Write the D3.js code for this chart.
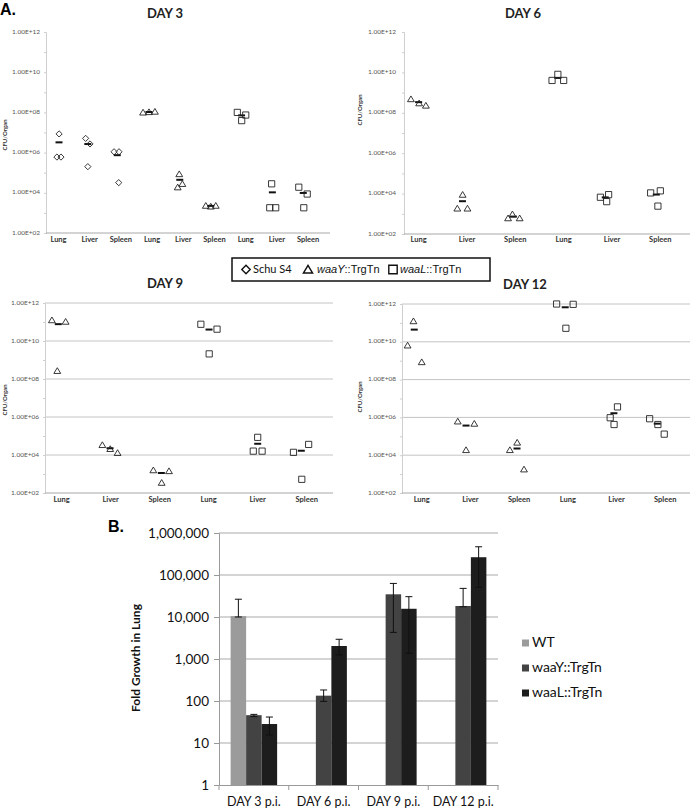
<!DOCTYPE html>
<html lang="en">
<head>
<meta charset="UTF-8">
<title>CFU per organ and fold growth in lung</title>
<script src="https://d3js.org/d3.v7.min.js"></script>
<style>
  body { margin: 0; background: #fff; }
  svg text { font-family: Lato, "Open Sans", sans-serif; }
</style>
</head>
<body>
<script>
    var W = 691, H = 811;

    // ---- panel A data: [strain, x in category units, CFU/organ] ----
    var day3Cats = ["Lung","Liver","Spleen","Lung","Liver","Spleen","Lung","Liver","Spleen"];
    var day3Points = [
        ["schu", 1.02, 8.5e6], ["schu", 0.95, 6.0e5], ["schu", 1.08, 6.0e5],
        ["schu", 1.87, 5.1e6], ["schu", 2.01, 2.7e6], ["schu", 1.94, 2.0e5],
        ["schu", 2.78, 1.1e6], ["schu", 2.94, 1.1e6], ["schu", 2.93, 3.2e4],
        ["waaY", 3.71, 1.0e8], ["waaY", 3.90, 1.05e8], ["waaY", 4.09, 1.1e8],
        ["waaY", 4.87, 8.6e4], ["waaY", 4.82, 1.9e4], ["waaY", 4.97, 2.8e4],
        ["waaY", 5.72, 2300], ["waaY", 5.88, 2100], ["waaY", 6.04, 2300],
        ["waaL", 6.73, 1.0e8], ["waaL", 6.87, 3.9e7], ["waaL", 7.00, 7.4e7],
        ["waaL", 7.83, 2.8e4], ["waaL", 7.77, 1800], ["waaL", 7.96, 1800],
        ["waaL", 8.70, 1.9e4], ["waaL", 8.97, 8700], ["waaL", 8.86, 1800]
    ];

    var mutantCats = ["Lung","Liver","Spleen","Lung","Liver","Spleen"];
    var day6Points = [
        ["waaY", 0.84, 4.8e8], ["waaY", 1.01, 3.0e8], ["waaY", 1.15, 2.3e8],
        ["waaY", 1.91, 8900], ["waaY", 1.80, 1850], ["waaY", 2.01, 1850],
        ["waaY", 2.85, 610], ["waaY", 2.94, 960], ["waaY", 3.09, 610],
        ["waaL", 3.76, 4.0e9], ["waaL", 3.88, 8.0e9], ["waaL", 4.00, 4.0e9],
        ["waaL", 4.76, 6600], ["waaL", 4.93, 8900], ["waaL", 4.89, 4000],
        ["waaL", 5.80, 10800], ["waaL", 6.00, 13700], ["waaL", 5.95, 2400]
    ];
    var day9Points = [
        ["waaY", 0.80, 1.26e11], ["waaY", 1.08, 1.05e11], ["waaY", 0.91, 2.7e8],
        ["waaY", 1.83, 3.4e4], ["waaY", 1.99, 2.1e4], ["waaY", 2.14, 1.3e4],
        ["waaY", 2.87, 1600], ["waaY", 3.19, 1440], ["waaY", 3.04, 350],
        ["waaL", 3.84, 7.6e10], ["waaL", 4.17, 4.2e10], ["waaL", 4.01, 2.1e9],
        ["waaL", 5.00, 8.5e4], ["waaL", 4.91, 1.6e4], ["waaL", 5.09, 1.6e4],
        ["waaL", 5.73, 1.38e4], ["waaL", 6.04, 3.6e4], ["waaL", 5.90, 525]
    ];
    var day12Points = [
        ["waaY", 0.83, 1.25e11], ["waaY", 0.71, 6.5e9], ["waaY", 1.00, 8.5e8],
        ["waaY", 1.74, 6.2e5], ["waaY", 2.08, 4.7e5], ["waaY", 1.91, 1.9e4],
        ["waaY", 2.81, 1.9e4], ["waaY", 2.96, 4.7e4], ["waaY", 3.10, 1800],
        ["waaL", 3.77, 1.0e12], ["waaL", 4.11, 9.6e11], ["waaL", 3.96, 5.2e10],
        ["waaL", 4.87, 9.6e5], ["waaL", 5.02, 3.6e6], ["waaL", 4.95, 4.2e5],
        ["waaL", 5.68, 8.5e5], ["waaL", 5.85, 4.2e5], ["waaL", 5.98, 1.3e5]
    ];
    var cfuTicks = [1e2, 1e4, 1e6, 1e8, 1e10, 1e12];

    // ---- panel B data ----
    var days = ["DAY 3 p.i.", "DAY 6 p.i.", "DAY 9 p.i.", "DAY 12 p.i."];
    var strains = ["WT", "waaY::TrgTn", "waaL::TrgTn"];
    var wtFold = [10500, null, null, null];
    var wtLow = [10000, null, null, null];
    var wtHigh = [26500, null, null, null];
    var waaYFold = [46, 134, 34700, 18300];
    var waaYLow = [42.5, 98, 4300, 17500];
    var waaYHigh = [48, 183, 63000, 48000];
    var waaLFold = [28.3, 2040, 15700, 265000];
    var waaLLow = [15.5, 1250, 1370, 51000];
    var waaLHigh = [41.5, 2950, 30500, 470000];
    var foldTicks = [1, 10, 100, 1000, 10000, 100000, 1000000];

    var svg = d3.select("body").append("svg")
        .attr("width", W).attr("height", H);

    // marker shapes
    function markerPath(kind, s) {
        if (kind === "schu") return "M0," + (-s) + "L" + s + ",0L0," + s + "L" + (-s) + ",0Z";
        if (kind === "waaY") return "M0," + (-s) + "L" + (s * 1.1) + "," + (s * 0.85) + "L" + (-s * 1.1) + "," + (s * 0.85) + "Z";
        return "M" + (-s) + "," + (-s) + "H" + s + "V" + s + "H" + (-s) + "Z";
    }
    var sciFmt = function(v) {
        var e = Math.round(Math.log10(v));
        return "1.00E+" + (e < 10 ? "0" : "") + e;
    };

    function drawPanel(p) {
        var g = svg.append("g");
        var x = d3.scaleLinear().domain(p.xDomain).range([p.x0, p.x1]);
        var y = d3.scaleLog().domain([1e2, 1e12]).range([p.yBot, p.yTop]);

        g.append("text").attr("x", p.titleX).attr("y", p.titleY)
            .attr("text-anchor", "middle").attr("dominant-baseline", "middle")
            .style("font-size", "13px").style("font-weight", "bold").style("fill", "#222")
            .text(p.title);

        if (p.grid) {
            g.selectAll(".grid").data(cfuTicks.slice(1)).enter().append("line")
                .attr("x1", p.x0).attr("x2", p.x1)
                .attr("y1", function(d) { return y(d); }).attr("y2", function(d) { return y(d); })
                .style("stroke", "#c4c4c4").style("stroke-width", 1);
        }

        // y axis with minor ticks
        var yAx = g.append("g").attr("transform", "translate(" + p.x0 + ",0)")
            .call(d3.axisLeft(y).tickValues(d3.range(2, 13).map(function(e) { return Math.pow(10, e); }))
                .tickSize(2).tickFormat(""));
        yAx.select(".domain").style("stroke", "#cfcfcf");
        yAx.selectAll(".tick line").style("stroke", "#cfcfcf");

        g.selectAll(".ylab").data(cfuTicks).enter().append("text")
            .attr("x", p.labX).attr("y", function(d) { return y(d); })
            .attr("text-anchor", "end").attr("dominant-baseline", "middle")
            .style("font-size", p.labSize + "px").style("fill", "#555")
            .text(sciFmt);

        g.append("line").attr("x1", p.x0).attr("x2", p.x1)
            .attr("y1", p.yBot).attr("y2", p.yBot)
            .style("stroke", "#a8a8a8");

        g.selectAll(".cat").data(p.cats).enter().append("text")
            .attr("x", function(d, i) { return x(i + 1); })
            .attr("y", p.catY)
            .attr("text-anchor", "middle").attr("dominant-baseline", "middle")
            .style("font-size", "7.5px").style("font-weight", "bold").style("fill", "#333")
            .text(function(d) { return d; });

        g.append("text")
            .attr("transform", "translate(" + p.ylabX + "," + p.ylabY + ") rotate(-90)")
            .attr("text-anchor", "middle").attr("dominant-baseline", "middle")
            .style("font-size", "6px").style("font-weight", "bold").style("fill", "#333")
            .text("CFU/Organ");

        // group means (short dash)
        var groups = d3.groups(p.points, function(d) { return d[0] + Math.round(d[1]); });
        g.selectAll(".mean").data(groups).enter().append("line")
            .attr("x1", function(d) { return x(d3.mean(d[1], function(v) { return v[1]; })) - 3.5; })
            .attr("x2", function(d) { return x(d3.mean(d[1], function(v) { return v[1]; })) + 3.5; })
            .attr("y1", function(d) { return y(d3.mean(d[1], function(v) { return v[2]; })); })
            .attr("y2", function(d) { return y(d3.mean(d[1], function(v) { return v[2]; })); })
            .style("stroke", "#111").style("stroke-width", 2);

        g.selectAll(".pt").data(p.points).enter().append("path")
            .attr("transform", function(d) { return "translate(" + x(d[1]) + "," + y(d[2]) + ")"; })
            .attr("d", function(d) { return markerPath(d[0], 3.1); })
            .style("fill", "none").style("stroke", "#222").style("stroke-width", 0.9);
    }

    // "A." label
    svg.append("text").attr("x", 0).attr("y", 15)
        .style("font-family", "Liberation Sans, Arial, sans-serif")
        .style("font-size", "16px").style("font-weight", "bold").text("A.");

    drawPanel({ title: "DAY 3", titleX: 165, titleY: 15, cats: day3Cats, points: day3Points,
        x0: 46, x1: 330, xDomain: [0.6, 9.7], yTop: 32, yBot: 233, labX: 40, labSize: 6.5,
        catY: 240, ylabX: 5, ylabY: 135, grid: false });
    drawPanel({ title: "DAY 6", titleX: 523, titleY: 15, cats: mutantCats, points: day6Points,
        x0: 404, x1: 690, xDomain: [0.697, 6.614], yTop: 32, yBot: 234, labX: 396, labSize: 6.5,
        catY: 240, ylabX: 360, ylabY: 110, grid: false });
    drawPanel({ title: "DAY 9", titleX: 165, titleY: 285, cats: mutantCats, points: day9Points,
        x0: 45, x1: 333, xDomain: [0.659, 6.537], yTop: 303, yBot: 493, labX: 39, labSize: 6.5,
        catY: 500, ylabX: 5, ylabY: 400, grid: true });
    drawPanel({ title: "DAY 12", titleX: 525, titleY: 286, cats: mutantCats, points: day12Points,
        x0: 402, x1: 690, xDomain: [0.595, 6.509], yTop: 304, yBot: 493, labX: 396, labSize: 6.5,
        catY: 500, ylabX: 360, ylabY: 397, grid: true });

    // legend box for panel A
    var lg = svg.append("g");
    lg.append("rect").attr("x", 232).attr("y", 258).attr("width", 258).attr("height", 23)
        .style("fill", "#fff").style("stroke", "#111").style("stroke-width", 1.5);
    var legendItems = [
        { kind: "schu", mx: 246, tx: 253, parts: [["Schu S4", false]] },
        { kind: "waaY", mx: 308, tx: 317, parts: [["waaY", true], ["::TrgTn", false]] },
        { kind: "waaL", mx: 393, tx: 400, parts: [["waaL", true], ["::TrgTn", false]] }
    ];
    legendItems.forEach(function(it) {
        lg.append("path").attr("transform", "translate(" + it.mx + ",269.5)")
            .attr("d", markerPath(it.kind, 4.2))
            .style("fill", "none").style("stroke", "#111").style("stroke-width", 1.4);
        var t = lg.append("text").attr("x", it.tx).attr("y", 270)
            .attr("dominant-baseline", "middle").style("font-size", "11px").style("fill", "#111");
        if (it.kind !== "schu") t.style("font-family", "Liberation Sans, Arial, sans-serif");
        it.parts.forEach(function(pt) {
            t.append("tspan").style("font-style", pt[1] ? "italic" : "normal").text(pt[0]);
        });
    });

    // ---- panel B: bar chart ----
    var bx0 = 219, bx1 = 498, byTop = 533, byBot = 785;
    var yB = d3.scaleLog().domain([1, 1e6]).range([byBot, byTop]);
    var xB = d3.scaleBand().domain(days).range([bx0, bx1]);
    var xSub = d3.scaleBand().domain(strains).range([0, xB.bandwidth()]).paddingOuter(0.75);
    var barColor = { "WT": "#9b9b9b", "waaY::TrgTn": "#434343", "waaL::TrgTn": "#1d1d1d" };

    var bars = [];
    days.forEach(function(d, i) {
        [[strains[0], wtFold, wtLow, wtHigh], [strains[1], waaYFold, waaYLow, waaYHigh],
         [strains[2], waaLFold, waaLLow, waaLHigh]].forEach(function(s) {
            if (s[1][i] != null) bars.push({ day: d, strain: s[0], v: s[1][i], lo: s[2][i], hi: s[3][i] });
        });
    });

    var gb = svg.append("g");
    gb.append("text").attr("x", 108).attr("y", 528)
        .attr("dominant-baseline", "middle")
        .style("font-family", "Liberation Sans, Arial, sans-serif")
        .style("font-size", "16px").style("font-weight", "bold").text("B.");

    gb.selectAll(".bgrid").data(foldTicks.slice(1)).enter().append("line")
        .attr("x1", bx0).attr("x2", bx1)
        .attr("y1", function(d) { return yB(d); }).attr("y2", function(d) { return yB(d); })
        .style("stroke", "#a9a9a9");

    var yAxB = gb.append("g").attr("transform", "translate(" + bx0 + ",0)")
        .call(d3.axisLeft(yB).tickValues(foldTicks).tickFormat(d3.format(",")).tickSize(5).tickPadding(5));
    yAxB.select(".domain").style("stroke", "#999");
    yAxB.selectAll(".tick line").style("stroke", "#999");
    yAxB.selectAll(".tick text").style("font-size", "13.5px").style("fill", "#111")
        .style("font-family", "Lato, sans-serif");

    var xAxB = gb.append("g").attr("transform", "translate(0," + byBot + ")")
        .call(d3.axisBottom(xB).tickSize(0).tickPadding(12));
    xAxB.select(".domain").style("stroke", "#999");
    xAxB.selectAll(".tick text").style("font-size", "12.5px").style("fill", "#111")
        .style("font-family", "Lato, sans-serif");
    gb.selectAll(".bnd").data(d3.range(days.length + 1)).enter().append("line")
        .attr("x1", function(i) { return bx0 + i * xB.step(); })
        .attr("x2", function(i) { return bx0 + i * xB.step(); })
        .attr("y1", byBot).attr("y2", byBot + 5)
        .style("stroke", "#999");

    gb.append("text")
        .attr("transform", "translate(137,658) rotate(-90)")
        .attr("text-anchor", "middle").attr("dominant-baseline", "middle")
        .style("font-size", "12px").style("font-weight", "bold").style("fill", "#111")
        .text("Fold Growth in Lung");

    gb.selectAll(".bar").data(bars).enter().append("rect")
        .attr("x", function(d) { return xB(d.day) + xSub(d.strain); })
        .attr("y", function(d) { return yB(d.v); })
        .attr("width", xSub.bandwidth())
        .attr("height", function(d) { return byBot - yB(d.v); })
        .style("fill", function(d) { return barColor[d.strain]; });

    var eb = gb.selectAll(".err").data(bars).enter().append("g")
        .attr("transform", function(d) { return "translate(" + (xB(d.day) + xSub(d.strain) + xSub.bandwidth() / 2) + ",0)"; });
    eb.append("line").attr("x1", 0).attr("x2", 0)
        .attr("y1", function(d) { return yB(d.hi); }).attr("y2", function(d) { return yB(d.lo); })
        .style("stroke", "#111");
    eb.append("line").attr("x1", -3.5).attr("x2", 3.5)
        .attr("y1", function(d) { return yB(d.hi); }).attr("y2", function(d) { return yB(d.hi); })
        .style("stroke", "#111");
    eb.append("line").attr("x1", -3.5).attr("x2", 3.5)
        .attr("y1", function(d) { return yB(d.lo); }).attr("y2", function(d) { return yB(d.lo); })
        .style("stroke", "#111");

    var lgB = gb.selectAll(".lgb").data(strains).enter().append("g")
        .attr("transform", function(d, i) { return "translate(522," + (643 + i * 25) + ")"; });
    lgB.append("rect").attr("x", 0).attr("y", -3.5).attr("width", 7).attr("height", 7)
        .style("fill", function(d) { return barColor[d]; });
    lgB.append("text").attr("x", 10).attr("y", 0).attr("dominant-baseline", "middle")
        .style("font-size", "14px").style("fill", "#111").text(function(d) { return d; });
</script>
</body>
</html>
